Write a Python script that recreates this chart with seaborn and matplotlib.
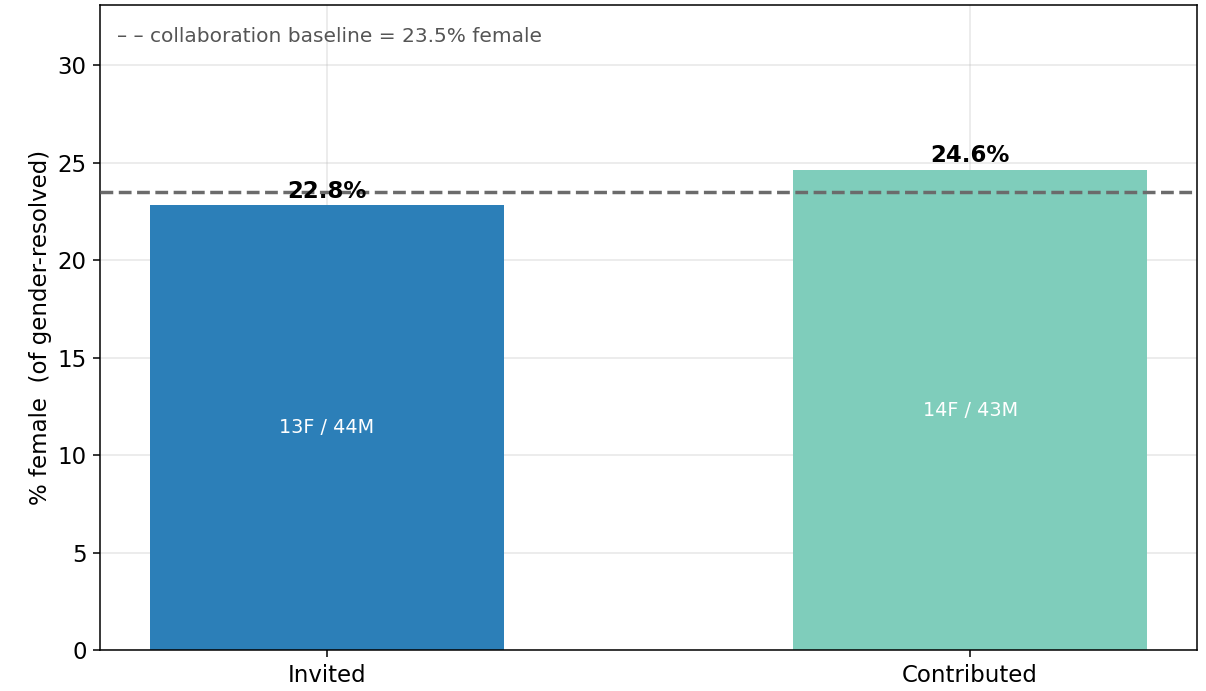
import matplotlib
matplotlib.use("Agg")
import matplotlib.pyplot as plt
import pandas as pd
import seaborn as sns

# --- data ---
groups = ["Invited", "Contributed"]
pct_female = [22.8, 24.6]
n_female = [13, 14]
n_male = [44, 43]
baseline = 23.5
bar_colors = ["#2c7fb8", "#7fcdbb"]

df = pd.DataFrame({"group": groups, "pct": pct_female})

# reference was rendered at a higher dpi -> scale line widths / tick sizes up
s = 1.38
plt.rcParams.update({
    "axes.linewidth": 0.8 * s,
    "xtick.major.width": 0.8 * s,
    "ytick.major.width": 0.8 * s,
    "xtick.major.size": 3.5 * s,
    "ytick.major.size": 3.5 * s,
    "xtick.major.pad": 3.5 * s,
    "ytick.major.pad": 3.5 * s,
})

fig, ax = plt.subplots(figsize=(12.06, 6.91), dpi=100)
fig.subplots_adjust(left=0.083, right=0.9925, top=0.993, bottom=0.059)

bar_w = 0.55
sns.barplot(data=df, x="group", y="pct", hue="group", palette=bar_colors,
            width=bar_w, legend=False, saturation=1, ax=ax)

ax.axhline(baseline, color="#6b6b6b", linestyle="--", linewidth=1.8 * s, zorder=3)

for i, (v, f, m) in enumerate(zip(pct_female, n_female, n_male)):
    ax.text(i, v + 0.15, f"{v:.1f}%", ha="center", va="bottom",
            fontsize=16.5, fontweight="bold", zorder=4)
    ax.text(i, v / 2, f"{f}F / {m}M", ha="center", va="center",
            fontsize=13.8, color="white")

ax.text(0.015, 0.965, "– – collaboration baseline = 23.5% female",
        transform=ax.transAxes, ha="left", va="top", fontsize=14.5, color="#555555")

pad = 0.05 * (len(groups) - 1 + bar_w)
ax.set_xlim(-bar_w / 2 - pad, len(groups) - 1 + bar_w / 2 + pad)
ax.set_ylim(0, max(pct_female) * 1.345)
ax.set_xlabel("")
ax.set_ylabel("% female  (of gender-resolved)", fontsize=16.5)
ax.tick_params(labelsize=16.5)
ax.grid(True, color="#b0b0b0", alpha=0.3, linewidth=0.8 * s)
ax.set_axisbelow(True)

fig.savefig("out.png", dpi=100)
